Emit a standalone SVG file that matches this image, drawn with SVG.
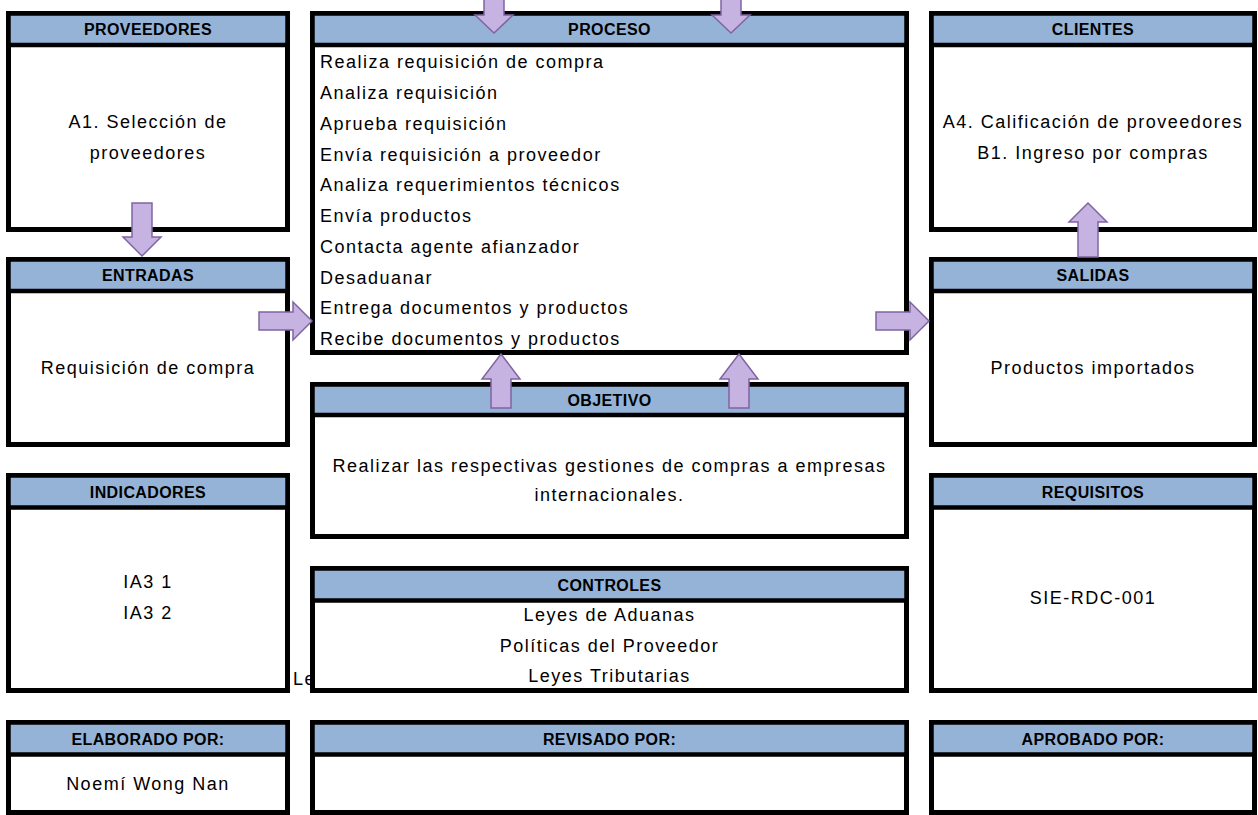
<svg xmlns="http://www.w3.org/2000/svg" width="1258" height="815" viewBox="0 0 1258 815">
<style>
.box{fill:#fff;stroke:#000;stroke-width:5}
.hdr{fill:#95b3d7;stroke:#000;stroke-width:4.5}
.ht{font-family:"Liberation Sans",Arial,sans-serif;font-weight:bold;font-size:16px;letter-spacing:0.4px;text-anchor:middle;fill:#000}
.bt{font-family:"Liberation Sans",Arial,sans-serif;font-size:18px;letter-spacing:1.5px;fill:#000}
.c{text-anchor:middle}
.arrow{fill:#c6b3e2;stroke:#8064a2;stroke-width:1.5;stroke-linejoin:miter}
</style>
<rect width="1258" height="815" fill="#fff"/>
<text class="bt" x="293" y="685">Le</text>
<g id="proveedores">
<rect class="box" x="8.5" y="13.5" width="279" height="216"/>
<rect class="hdr" x="8.5" y="13.5" width="279" height="31.5"/>
<text class="ht" x="148" y="35">PROVEEDORES</text>
<text class="bt c" x="148" y="128">A1. Selección de</text>
<text class="bt c" x="148" y="159">proveedores</text>
</g>
<g id="proceso">
<rect class="box" x="312.5" y="13.5" width="594" height="339"/>
<rect class="hdr" x="312.5" y="13.5" width="594" height="31.5"/>
<text class="ht" x="609.5" y="35">PROCESO</text>
<text class="bt" x="320" y="68">Realiza requisición de compra</text>
<text class="bt" x="320" y="99">Analiza requisición</text>
<text class="bt" x="320" y="130">Aprueba requisición</text>
<text class="bt" x="320" y="161">Envía requisición a proveedor</text>
<text class="bt" x="320" y="191">Analiza requerimientos técnicos</text>
<text class="bt" x="320" y="222">Envía productos</text>
<text class="bt" x="320" y="253">Contacta agente afianzador</text>
<text class="bt" x="320" y="284">Desaduanar</text>
<text class="bt" x="320" y="314">Entrega documentos y productos</text>
<text class="bt" x="320" y="345">Recibe documentos y productos</text>
</g>
<g id="clientes">
<rect class="box" x="931.5" y="13.5" width="323" height="216"/>
<rect class="hdr" x="931.5" y="13.5" width="323" height="31.5"/>
<text class="ht" x="1093" y="35">CLIENTES</text>
<text class="bt c" x="1093" y="128">A4. Calificación de proveedores</text>
<text class="bt c" x="1093" y="159">B1. Ingreso por compras</text>
</g>
<g id="entradas">
<rect class="box" x="8.5" y="259.5" width="279" height="185"/>
<rect class="hdr" x="8.5" y="259.5" width="279" height="31.5"/>
<text class="ht" x="148" y="281">ENTRADAS</text>
<text class="bt c" x="148" y="374">Requisición de compra</text>
</g>
<g id="salidas">
<rect class="box" x="931.5" y="259.5" width="323" height="185"/>
<rect class="hdr" x="931.5" y="259.5" width="323" height="31.5"/>
<text class="ht" x="1093" y="281">SALIDAS</text>
<text class="bt c" x="1093" y="374">Productos importados</text>
</g>
<g id="objetivo">
<rect class="box" x="312.5" y="384.5" width="594" height="152"/>
<rect class="hdr" x="312.5" y="384.5" width="594" height="30.5"/>
<text class="ht" x="609.5" y="405.5">OBJETIVO</text>
<text class="bt c" x="609.5" y="472">Realizar las respectivas gestiones de compras a empresas</text>
<text class="bt c" x="609.5" y="501">internacionales.</text>
</g>
<g id="indicadores">
<rect class="box" x="8.5" y="475.5" width="279" height="215"/>
<rect class="hdr" x="8.5" y="475.5" width="279" height="32"/>
<text class="ht" x="148" y="497.5">INDICADORES</text>
<text class="bt c" x="148" y="588">IA3 1</text>
<text class="bt c" x="148" y="619">IA3 2</text>
</g>
<g id="requisitos">
<rect class="box" x="931.5" y="475.5" width="323" height="215"/>
<rect class="hdr" x="931.5" y="475.5" width="323" height="32"/>
<text class="ht" x="1093" y="497.5">REQUISITOS</text>
<text class="bt c" x="1093" y="604">SIE-RDC-001</text>
</g>
<g id="controles">
<rect class="box" x="312.5" y="568.5" width="594" height="122"/>
<rect class="hdr" x="312.5" y="568.5" width="594" height="32"/>
<text class="ht" x="609.5" y="590.5">CONTROLES</text>
<text class="bt c" x="609.5" y="621">Leyes de Aduanas</text>
<text class="bt c" x="609.5" y="652">Políticas del Proveedor</text>
<text class="bt c" x="609.5" y="682">Leyes Tributarias</text>
</g>
<g id="elaborado">
<rect class="box" x="8.5" y="722.5" width="279" height="90"/>
<rect class="hdr" x="8.5" y="722.5" width="279" height="32"/>
<text class="ht" x="148" y="744.5">ELABORADO POR:</text>
<text class="bt c" x="148" y="790">Noemí Wong Nan</text>
</g>
<g id="revisado">
<rect class="box" x="312.5" y="722.5" width="594" height="90"/>
<rect class="hdr" x="312.5" y="722.5" width="594" height="32"/>
<text class="ht" x="609.5" y="744.5">REVISADO POR:</text>
</g>
<g id="aprobado">
<rect class="box" x="931.5" y="722.5" width="323" height="90"/>
<rect class="hdr" x="931.5" y="722.5" width="323" height="32"/>
<text class="ht" x="1093" y="744.5">APROBADO POR:</text>
</g>
<g id="connectors">
<path class="arrow" d="M484,-5 H504 V15 H513 L494,33 L475,15 H484 Z"/>
<path class="arrow" d="M721,-5 H741 V15 H750 L731,33 L712,15 H721 Z"/>
<path class="arrow" d="M132,203 H152 V237 H161 L142,256 L123,237 H132 Z"/>
<path class="arrow" d="M259,312 H293 V302 L312,321 L293,340 V330 H259 Z"/>
<path class="arrow" d="M876,312 H910 V302 L929,321 L910,340 V330 H876 Z"/>
<path class="arrow" d="M1078,257 V222 H1069 L1088,203 L1107,222 H1098 V257 Z"/>
<path class="arrow" d="M491,408 V379 H482 L501,354 L520,379 H511 V408 Z"/>
<path class="arrow" d="M729,408 V379 H720 L739,354 L758,379 H749 V408 Z"/>
</g>
</svg>
